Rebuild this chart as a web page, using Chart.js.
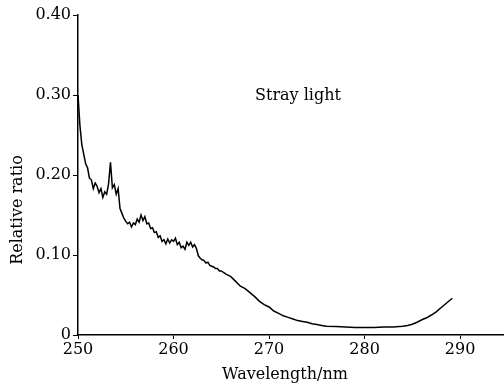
<!DOCTYPE html>
<html>
<head>
<meta charset="utf-8">
<script src="https://cdn.jsdelivr.net/npm/chart.js@4"></script>
<style>
  html, body { margin: 0; padding: 0; background: #fff; }
  #wrap { width: 504px; height: 385px; }
</style>
</head>
<body>
<div id="wrap"><canvas id="chart" width="504" height="385"></canvas></div>
<script>
'use strict';

// wavelength (nm) and relative stray-light ratio
const wavelengths = [
  250.0, 250.2, 250.4, 250.6, 250.8, 251.0, 251.2, 251.4, 251.6, 251.8,
  252.0, 252.2, 252.4, 252.6, 252.8, 253.0, 253.2, 253.4, 253.6, 253.8,
  254.0, 254.2, 254.4, 254.6, 254.8, 255.0, 255.2, 255.4, 255.6, 255.8,
  256.0, 256.2, 256.4, 256.6, 256.8, 257.0, 257.2, 257.4, 257.6, 257.8,
  258.0, 258.2, 258.4, 258.6, 258.8, 259.0, 259.2, 259.4, 259.6, 259.8,
  260.0, 260.2, 260.4, 260.6, 260.8, 261.0, 261.2, 261.4, 261.6, 261.8,
  262.0, 262.2, 262.4, 262.6, 262.8, 263.0, 263.2, 263.4, 263.6, 263.8,
  264.0, 264.2, 264.4, 264.6, 264.8, 265.0,
  265.5, 266.0, 266.5, 267.0, 267.5, 268.0, 268.5, 269.0, 269.5, 270.0,
  270.5, 271.0, 271.5, 272.0, 272.5, 273.0, 273.5, 274.0, 274.5, 275.0,
  275.5, 276.0, 277.0, 278.0, 279.0, 280.0, 281.0, 282.0, 283.0, 284.0,
  284.5, 285.0, 285.5, 286.0, 286.5, 287.0, 287.5, 288.0, 288.5, 289.0, 289.2
];

const strayRatio = [
  0.300, 0.262, 0.238, 0.226, 0.214, 0.209, 0.196, 0.194, 0.183, 0.190,
  0.186, 0.178, 0.183, 0.172, 0.179, 0.176, 0.189, 0.216, 0.184, 0.188,
  0.176, 0.183, 0.158, 0.152, 0.146, 0.142, 0.139, 0.141, 0.135, 0.140,
  0.138, 0.145, 0.141, 0.150, 0.143, 0.148, 0.139, 0.140, 0.133, 0.134,
  0.128, 0.129, 0.122, 0.124, 0.117, 0.119, 0.114, 0.120, 0.115, 0.119,
  0.117, 0.121, 0.113, 0.116, 0.109, 0.111, 0.107, 0.116, 0.112, 0.116,
  0.110, 0.113, 0.108, 0.099, 0.096, 0.094, 0.093, 0.090, 0.091, 0.087,
  0.086, 0.085, 0.083, 0.083, 0.080, 0.080,
  0.076, 0.073, 0.067, 0.061, 0.058, 0.053, 0.048, 0.042, 0.038, 0.035,
  0.030, 0.027, 0.024, 0.022, 0.020, 0.018, 0.017, 0.016, 0.014, 0.013,
  0.012, 0.011, 0.0105, 0.010, 0.0095, 0.0095, 0.0095, 0.010, 0.010, 0.011,
  0.012, 0.0135, 0.016, 0.019, 0.0215, 0.025, 0.029, 0.034, 0.039, 0.044, 0.046
];

const xTicks = [250, 260, 270, 280, 290];
const yTicks = [0, 0.1, 0.2, 0.3, 0.4];

const seriesLabel = 'Stray light';
const xTitle = 'Wavelength/nm';
const yTitle = 'Relative ratio';

const FONT = '"DejaVu Serif", "Liberation Serif", serif';

const labelsPlugin = {
  id: 'labels',
  afterDraw(chart) {
    const { ctx } = chart;
    ctx.save();
    ctx.fillStyle = '#000';
    ctx.font = `16px ${FONT}`;
    ctx.textBaseline = 'middle';
    ctx.textAlign = 'left';
    ctx.fillText(seriesLabel, 255, 96);
    ctx.textAlign = 'center';
    ctx.fillText(xTitle, 285, 375);
    ctx.translate(18, 210);
    ctx.rotate(-Math.PI / 2);
    ctx.fillText(yTitle, 0, 0);
    ctx.restore();
  }
};

const points = wavelengths.map((w, i) => ({ x: w, y: strayRatio[i] }));

new Chart(document.getElementById('chart'), {
  type: 'line',
  data: {
    datasets: [{
      data: points,
      borderColor: '#000',
      borderWidth: 1.5,
      pointRadius: 0,
      tension: 0,
      fill: false
    }]
  },
  options: {
    responsive: false,
    animation: false,
    layout: { padding: { top: 15, right: 0, left: 0, bottom: 0 } },
    plugins: { legend: { display: false }, tooltip: { enabled: false } },
    scales: {
      x: {
        type: 'linear',
        min: 250,
        max: 294.6,
        afterBuildTicks: (axis) => { axis.ticks = xTicks.map((v) => ({ value: v })); },
        afterFit: (axis) => { axis.height = 50; },
        border: { color: '#000', width: 1.5 },
        grid: { drawOnChartArea: false, drawTicks: true, tickLength: 4, color: '#000' },
        ticks: { color: '#000', font: { family: FONT, size: 16 }, padding: 1, maxRotation: 0 }
      },
      y: {
        min: 0,
        max: 0.4,
        afterBuildTicks: (axis) => { axis.ticks = yTicks.map((v) => ({ value: v })); },
        afterFit: (axis) => { axis.width = 78; },
        border: { color: '#000', width: 1.5 },
        grid: { drawOnChartArea: false, drawTicks: true, tickLength: 5, color: '#000' },
        ticks: {
          color: '#000',
          font: { family: FONT, size: 16 },
          padding: 2,
          callback: (v) => (v === 0 ? '0' : v.toFixed(2))
        }
      }
    }
  },
  plugins: [labelsPlugin]
});
</script>
</body>
</html>
